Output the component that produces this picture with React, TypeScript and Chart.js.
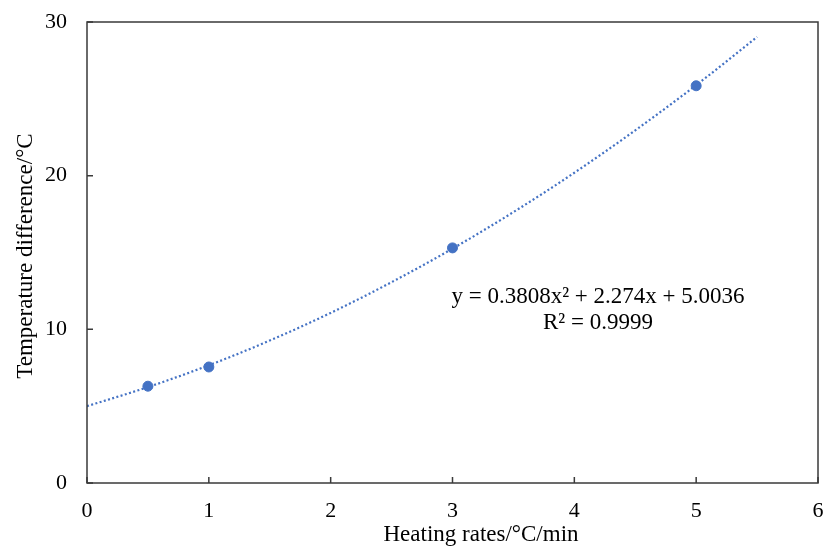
import React, { useEffect, useRef } from "react";
import { Chart, registerables } from "chart.js";

Chart.register(...registerables);

const rateX = [0.5, 1, 3, 5];
const tempDiff = [6.3, 7.55, 15.3, 25.85];
const trendX = [0, 0.5, 1, 1.5, 2, 2.5, 3, 3.5, 4, 4.5, 5, 5.5];
const trendY = [5.0, 6.24, 7.66, 9.27, 11.07, 13.07, 15.25, 17.63, 20.19, 22.95, 25.89, 29.03];
const xTicks = [0, 1, 2, 3, 4, 5, 6];
const yTicks = [0, 10, 20, 30];
const eqLine1 = "y = 0.3808x² + 2.274x + 5.0036";
const eqLine2 = "R² = 0.9999";
const xTitle = "Heating rates/°C/min";
const yTitle = "Temperature difference/°C";

const FONT = "'Liberation Serif', 'Times New Roman', serif";
const BLUE = "#4472C4";

const decorPlugin = {
  id: "decor",
  afterDraw(chart: any) {
    const { ctx, chartArea: a, scales } = chart;
    const xs = scales.x;
    const ys = scales.y;
    ctx.save();
    ctx.strokeStyle = "#3a3a3a";
    ctx.lineWidth = 1.5;
    ctx.strokeRect(a.left, a.top, a.right - a.left, a.bottom - a.top);
    ctx.beginPath();
    xTicks.forEach((v) => {
      const px = xs.getPixelForValue(v);
      ctx.moveTo(px, a.bottom);
      ctx.lineTo(px, a.bottom - 6);
    });
    yTicks.forEach((v) => {
      const py = ys.getPixelForValue(v);
      ctx.moveTo(a.left, py);
      ctx.lineTo(a.left + 6, py);
    });
    ctx.stroke();
    ctx.fillStyle = "#000";
    ctx.font = `23px ${FONT}`;
    ctx.textAlign = "center";
    ctx.textBaseline = "middle";
    ctx.fillText(eqLine1, 598, 297);
    ctx.fillText(eqLine2, 598, 323);
    ctx.font = `23px ${FONT}`;
    ctx.fillText(xTitle, 481, 535);
    ctx.translate(26, 256);
    ctx.rotate(-Math.PI / 2);
    ctx.fillText(yTitle, 0, 0);
    ctx.restore();
  },
};

export default function App() {
  const ref = useRef<HTMLCanvasElement>(null);
  useEffect(() => {
    if (!ref.current) return;
    const zeroPad = (s: any) => {
      s.paddingLeft = 0;
      s.paddingRight = 0;
      s.paddingTop = 0;
      s.paddingBottom = 0;
    };
    const chart = new Chart(ref.current, {
      type: "scatter",
      data: {
        datasets: [
          {
            label: "trend",
            data: trendX.map((x, i) => ({ x, y: trendY[i] })),
            showLine: true,
            borderColor: BLUE,
            borderWidth: 2.2,
            borderDash: [2, 2.4],
            pointRadius: 0,
            cubicInterpolationMode: "monotone",
            order: 2,
          },
          {
            label: "data",
            data: rateX.map((x, i) => ({ x, y: tempDiff[i] })),
            backgroundColor: BLUE,
            borderColor: BLUE,
            pointRadius: 5,
            order: 1,
          },
        ],
      },
      options: {
        responsive: false,
        animation: false,
        layout: { padding: { top: 22, right: 6, left: 0, bottom: 0 } },
        plugins: { legend: { display: false }, tooltip: { enabled: false } },
        scales: {
          x: {
            type: "linear",
            min: 0,
            max: 6,
            afterFit: (s: any) => {
              s.height = 67;
              zeroPad(s);
            },
            afterBuildTicks: (s: any) => {
              s.ticks = xTicks.map((v) => ({ value: v }));
            },
            grid: { display: false, drawTicks: false },
            border: { display: false },
            ticks: {
              color: "#000",
              padding: 15,
              maxRotation: 0,
              font: { family: FONT, size: 22 },
            },
          },
          y: {
            type: "linear",
            min: 0,
            max: 30,
            afterFit: (s: any) => {
              s.width = 87;
              zeroPad(s);
            },
            afterBuildTicks: (s: any) => {
              s.ticks = yTicks.map((v) => ({ value: v }));
            },
            grid: { display: false, drawTicks: false },
            border: { display: false },
            ticks: {
              color: "#000",
              padding: 20,
              font: { family: FONT, size: 22 },
            },
          },
        },
      },
      plugins: [decorPlugin],
    });
    return () => chart.destroy();
  }, []);
  return (
    <div style={{ position: "fixed", left: 0, top: 0, width: 824, height: 550, background: "#fff" }}>
      <canvas ref={ref} width={824} height={550} />
    </div>
  );
}
